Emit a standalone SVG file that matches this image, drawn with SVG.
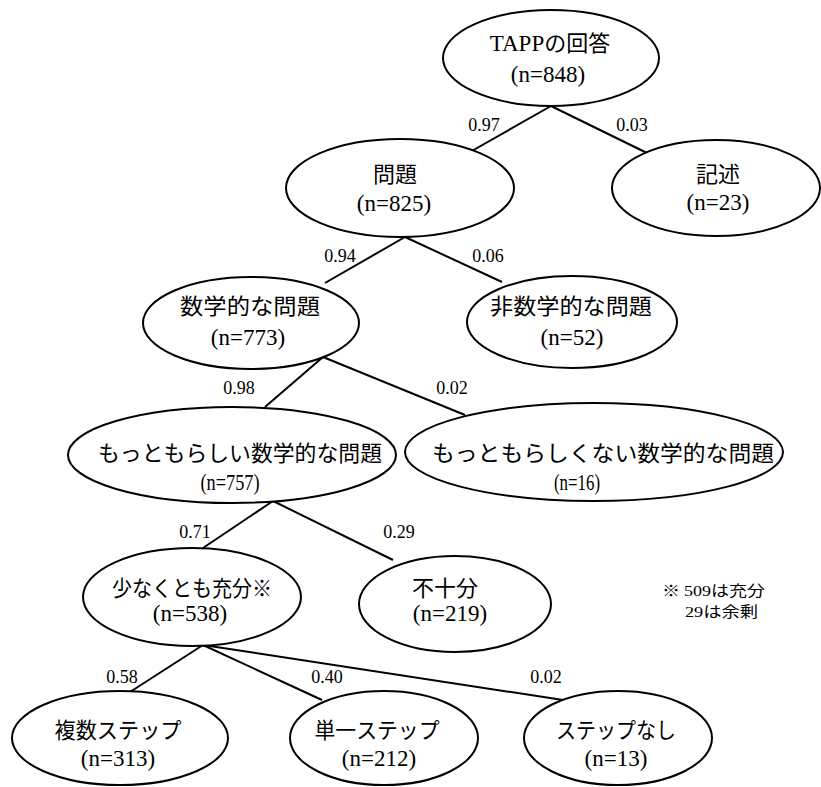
<svg xmlns="http://www.w3.org/2000/svg" width="821" height="787" viewBox="0 0 821 787">
<style>
.n ellipse{fill:#fff;stroke:#000;stroke-width:2}
.t{font-family:'Liberation Serif','DejaVu Serif',serif;font-size:23px;fill:#000;text-anchor:middle}
.j{font-family:'Noto Sans CJK JP','Noto Sans CJK SC',sans-serif;font-size:22px;fill:#000;text-anchor:middle}
.r{font-family:'Liberation Serif','DejaVu Serif',serif}
.l{font-family:'Liberation Serif','DejaVu Serif',serif;font-size:18px;fill:#000;text-anchor:middle}
.note{font-family:'Noto Sans CJK JP','Noto Sans CJK SC',sans-serif;font-size:15px;fill:#000}
#edges line{stroke:#000;stroke-width:2}
</style>
<rect width="821" height="787" fill="#fff"/>
<g id="edges">
<line x1="551" y1="106" x2="470" y2="152"/>
<line x1="551" y1="106" x2="647" y2="153"/>
<line x1="405" y1="237" x2="325" y2="283"/>
<line x1="405" y1="237" x2="502" y2="282"/>
<line x1="323" y1="357" x2="265" y2="407"/>
<line x1="323" y1="357" x2="465" y2="415"/>
<line x1="273" y1="501" x2="203" y2="548"/>
<line x1="273" y1="501" x2="393" y2="560"/>
<line x1="203" y1="645" x2="130" y2="692"/>
<line x1="203" y1="645" x2="322" y2="700"/>
<line x1="203" y1="645" x2="563" y2="700"/>
</g>
<g id="labels">
<text class="l" x="484" y="131">0.97</text>
<text class="l" x="632" y="131">0.03</text>
<text class="l" x="340" y="262">0.94</text>
<text class="l" x="488" y="262">0.06</text>
<text class="l" x="239" y="394">0.98</text>
<text class="l" x="452" y="394">0.02</text>
<text class="l" x="195" y="538">0.71</text>
<text class="l" x="399" y="538">0.29</text>
<text class="l" x="122" y="683">0.58</text>
<text class="l" x="327" y="683">0.40</text>
<text class="l" x="546" y="683">0.02</text>
</g>
<g id="root" class="n">
<ellipse cx="551" cy="58" rx="108" ry="48"/>
<text class="j" x="550" y="51"><tspan class="r" font-size="23">TAPP</tspan>の回答</text>
<text class="t" x="548" y="82">(n=848)</text>
</g>
<g id="mondai" class="n">
<ellipse cx="400" cy="188" rx="114" ry="49"/>
<text class="j" x="395" y="182">問題</text>
<text class="t" x="394" y="211">(n=825)</text>
</g>
<g id="kijutsu" class="n">
<ellipse cx="716" cy="188" rx="104" ry="48"/>
<text class="j" x="718" y="182">記述</text>
<text class="t" x="718" y="210">(n=23)</text>
</g>
<g id="sugakuteki" class="n">
<ellipse cx="251" cy="323" rx="108" ry="46"/>
<text class="j" x="250" y="314" textLength="140" lengthAdjust="spacingAndGlyphs">数学的な問題</text>
<text class="t" x="248" y="345">(n=773)</text>
</g>
<g id="hisugakuteki" class="n">
<ellipse cx="572" cy="322" rx="105" ry="46"/>
<text class="j" x="571" y="314" textLength="162" lengthAdjust="spacingAndGlyphs">非数学的な問題</text>
<text class="t" x="572" y="345">(n=52)</text>
</g>
<g id="motto" class="n">
<ellipse cx="232" cy="455" rx="164" ry="48"/>
<text class="j" x="240" y="461" textLength="284" lengthAdjust="spacingAndGlyphs">もっともらしい数学的な問題</text>
<text class="t" x="230" y="490" textLength="59" lengthAdjust="spacingAndGlyphs">(n=757)</text>
</g>
<g id="mottonai" class="n">
<ellipse cx="594" cy="452" rx="189" ry="49"/>
<text class="j" x="603" y="461" textLength="342" lengthAdjust="spacingAndGlyphs">もっともらしくない数学的な問題</text>
<text class="t" x="577" y="490" textLength="46" lengthAdjust="spacingAndGlyphs">(n=16)</text>
</g>
<g id="sukunaku" class="n">
<ellipse cx="192" cy="597" rx="109" ry="49"/>
<text class="j" x="192" y="596" textLength="160" lengthAdjust="spacingAndGlyphs">少なくとも充分※</text>
<text class="t" x="190" y="621">(n=538)</text>
</g>
<g id="fujubun" class="n">
<ellipse cx="455" cy="604" rx="96" ry="48"/>
<text class="j" x="445" y="596">不十分</text>
<text class="t" x="450" y="621">(n=219)</text>
</g>
<g id="fukusu" class="n">
<ellipse cx="120" cy="738" rx="108" ry="47"/>
<text class="j" x="118" y="738" textLength="127" lengthAdjust="spacingAndGlyphs">複数ステップ</text>
<text class="t" x="118" y="766">(n=313)</text>
</g>
<g id="tanitsu" class="n">
<ellipse cx="384" cy="738" rx="94" ry="47"/>
<text class="j" x="377" y="738" textLength="125" lengthAdjust="spacingAndGlyphs">単一ステップ</text>
<text class="t" x="379" y="766">(n=212)</text>
</g>
<g id="nashi" class="n">
<ellipse cx="618" cy="738" rx="94" ry="47"/>
<text class="j" x="616" y="738" textLength="120" lengthAdjust="spacingAndGlyphs">ステップなし</text>
<text class="t" x="616" y="766">(n=13)</text>
</g>
<g id="note">
<text class="note" x="662" y="596" textLength="103" lengthAdjust="spacingAndGlyphs">※ <tspan class="r">509</tspan>は充分</text>
<text class="note" x="685" y="617" textLength="73" lengthAdjust="spacingAndGlyphs"><tspan class="r">29</tspan>は余剰</text>
</g>
</svg>
